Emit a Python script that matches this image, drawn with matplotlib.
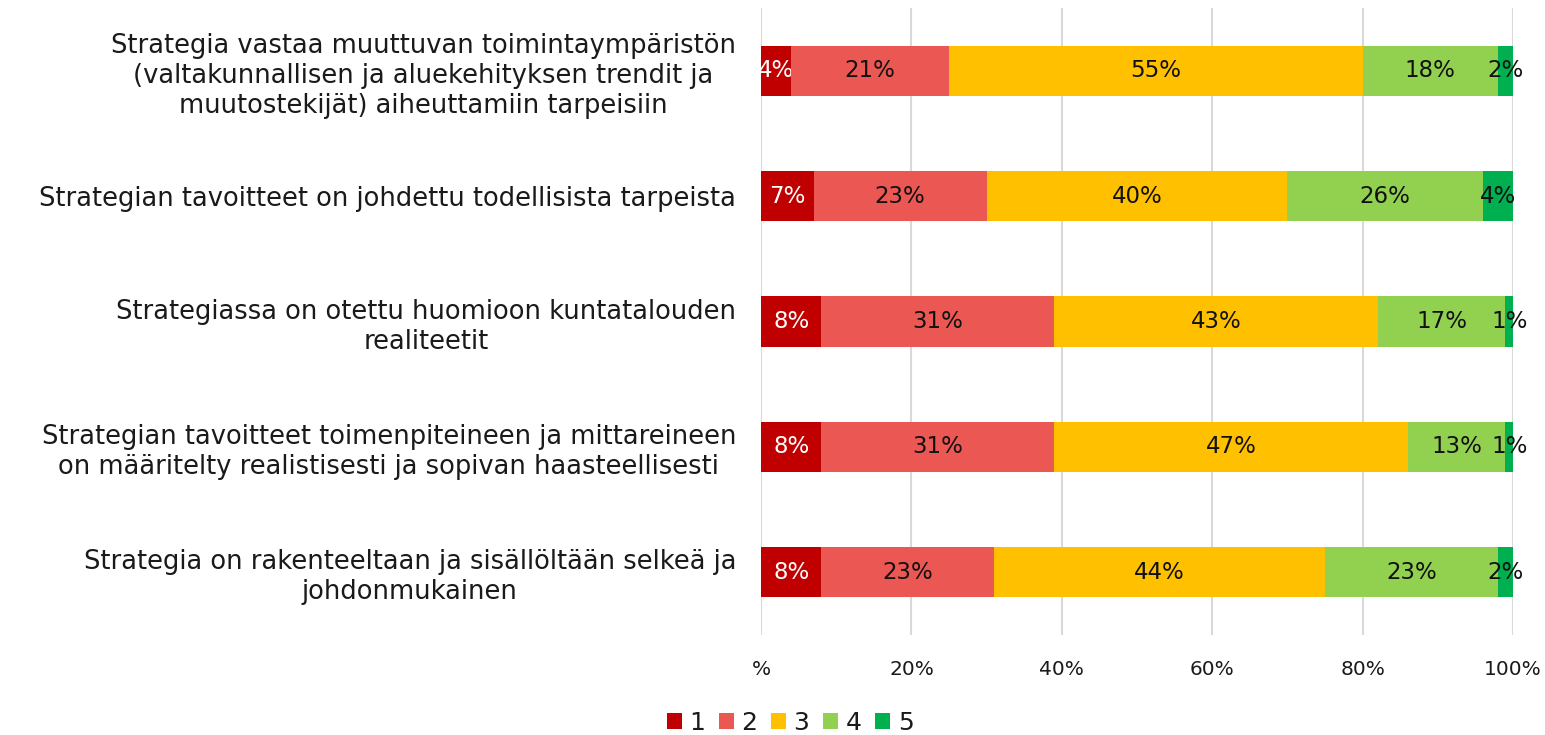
import matplotlib
matplotlib.use("Agg")
import matplotlib.pyplot as plt
import numpy as np

plt.rcParams["font.family"] = ["DejaVu Sans"]

# Survey statements (top to bottom)
statements = [
    "Strategia vastaa muuttuvan toimintaympäristön\n(valtakunnallisen ja aluekehityksen trendit ja\nmuutostekijät) aiheuttamiin tarpeisiin",
    "Strategian tavoitteet on johdettu todellisista tarpeista",
    "Strategiassa on otettu huomioon kuntatalouden\nrealiteetit",
    "Strategian tavoitteet toimenpiteineen ja mittareineen\non määritelty realistisesti ja sopivan haasteellisesti",
    "Strategia on rakenteeltaan ja sisällöltään selkeä ja\njohdonmukainen",
]

# Share of answers per grade (%)
grade_1 = [4, 7, 8, 8, 8]
grade_2 = [21, 23, 31, 31, 23]
grade_3 = [55, 40, 43, 47, 44]
grade_4 = [18, 26, 17, 13, 23]
grade_5 = [2, 4, 1, 1, 2]

grades = ["1", "2", "3", "4", "5"]
series = [grade_1, grade_2, grade_3, grade_4, grade_5]
colors = ["#C00000", "#EB5753", "#FFC000", "#92D050", "#00B050"]
label_colors = ["white", "#111111", "#111111", "#111111", "#111111"]

x_ticks = [0, 20, 40, 60, 80, 100]
x_tick_labels = ["%", "20%", "40%", "60%", "80%", "100%"]

fig = plt.figure(figsize=(15.45, 7.35), dpi=100)
ax = fig.add_axes([0.4926, 0.136, 0.4867, 0.853])

y = np.arange(len(statements))
left = np.zeros(len(statements))
for name, vals, col, lcol in zip(grades, series, colors, label_colors):
    vals = np.array(vals, dtype=float)
    bars = ax.barh(y, vals, left=left, height=0.4, color=col, label=name, zorder=3)
    ax.bar_label(bars, labels=[f"{int(v)}%" for v in vals], label_type="center",
                 color=lcol, fontsize=16.5)
    left += vals

ax.set_xlim(0, 100)
ax.set_ylim(len(statements) - 0.5, -0.5)
ax.set_xticks(x_ticks)
ax.set_xticklabels(x_tick_labels, fontsize=14.5)
ax.set_yticks(y)
ax.set_yticklabels(statements, fontsize=18.5, multialignment="center")
ax.tick_params(axis="both", length=0, colors="#1a1a1a")
ax.tick_params(axis="x", pad=18)
ax.tick_params(axis="y", pad=18)
ax.grid(axis="x", color="#D9D9D9", linewidth=1.5, zorder=0)
for s in ax.spines.values():
    s.set_visible(False)

handles, labels = ax.get_legend_handles_labels()
fig.legend(handles, labels, loc="center", bbox_to_anchor=(790 / 1545, 1 - 723 / 735),
           ncol=5, frameon=False, fontsize=18, handlelength=0.6, handleheight=0.6,
           handletextpad=0.3, columnspacing=0.55, borderpad=0, borderaxespad=0,
           labelcolor="#1a1a1a")

fig.savefig("out.png", dpi=100)
